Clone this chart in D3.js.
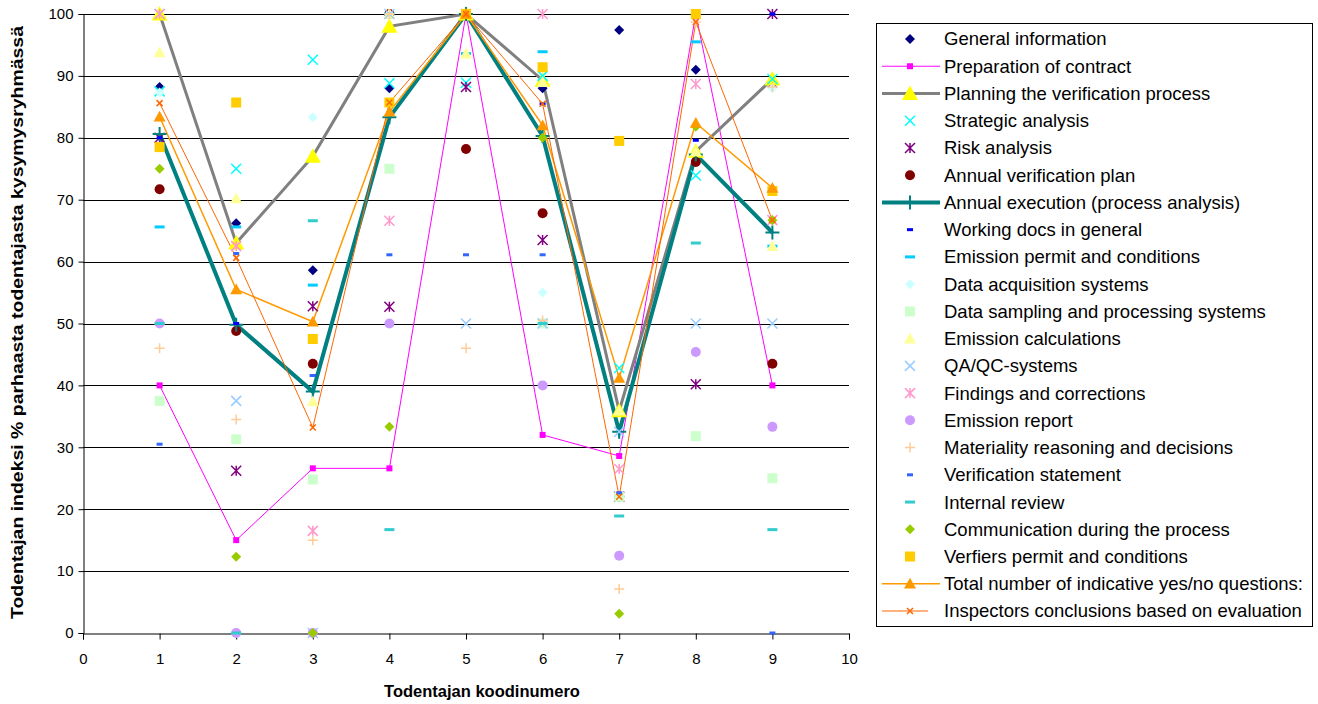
<!DOCTYPE html>
<html>
<head>
<meta charset="utf-8">
<script src="https://cdn.jsdelivr.net/npm/d3@7"></script>
<style>
  body { margin: 0; background: #fff; }
  svg { font-family: "Liberation Sans", Arial, sans-serif; }
</style>
</head>
<body>
<div id="chart"></div>
<script>
// koodinumerot 1..9
const codes = [1, 2, 3, 4, 5, 6, 7, 8, 9];
const xTicks = [0, 1, 2, 3, 4, 5, 6, 7, 8, 9, 10];
const yTicks = [0, 10, 20, 30, 40, 50, 60, 70, 80, 90, 100];

const generalInfo = [88.2, 66.2, 58.6, 88, 100, 88, 97.4, 91, 88.2];
const prepContract = [40, 15, 26.6, 26.6, 100, 32, 28.6, 100, 40];
const planning = [100, 63, 77, 98, 100, 89.3, 35.9, 77.8, 89.5];
const strategic = [87.5, 75, 92.6, 88.8, 88.9, 90, 42.8, 73.9, 89.5];
const risk = [80, 26.2, 52.8, 52.7, 88.2, 63.5, 22, 40.2, 100];
const annualPlan = [71.7, 48.8, 43.5, 100, 78.2, 67.8, 22, 76.1, 43.5];
const annualExec = [80.6, 49.8, 39, 83.3, 100, 80.3, 32.5, 77.3, 64.7];
const workingDocs = [80, 50, 41.6, 100, 100, 85.5, 22.6, 79.6, 100];
const emissionPermit = [65.6, 65.6, 56.2, 100, 93.6, 93.9, 22, 95.5, 62.5];
const dataAcq = [87.3, 0, 83.3, 100, 100, 55, 22, 100, 88];
const dataSampling = [37.5, 31.3, 24.8, 75, 100, 50, 22, 31.8, 25];
const emissionCalc = [93.8, 70.2, 37.4, 100, 93.6, 89, 35.9, 77.8, 62.5];
const qaqc = [100, 37.5, 0, 100, 50, 50, 32.5, 50, 50];
const findings = [100, 62.5, 16.5, 66.6, 100, 100, 26.5, 88.7, 66.7];
const emissionReport = [50, 0, 0, 50, 100, 40, 12.5, 45.4, 33.3];
const materiality = [46, 34.5, 15, 100, 46, 50.5, 7.1, 98.7, 88.2];
const verificationStatement = [30.5, 61.3, 41.6, 61.1, 61.1, 61.1, 22.6, 100, 0];
const internalReview = [50, 0, 66.6, 16.7, 100, 50, 18.9, 63, 16.7];
const communication = [75, 12.3, 0, 33.3, 100, 80, 3.1, 81.8, 66.7];
const verifiersPermit = [78.5, 85.7, 47.5, 85.7, 100, 91.4, 79.5, 100, 71.4];
const totalQuestions = [83.4, 55.5, 50.3, 84.2, 100, 82, 41.2, 82.4, 71.9];
const inspectors = [85.6, 60.6, 33.2, 85.7, 100, 85.5, 22, 98.7, 66.7];

const series = [
  { name: "General information", values: generalInfo, marker: "diamond", color: "#000080", size: 5 },
  { name: "Preparation of contract", values: prepContract, marker: "square", color: "#FF00FF", size: 3, line: "#FF00FF", lw: 1 },
  { name: "Planning the verification process", values: planning, marker: "triangle", color: "#FFFF00", size: 8, line: "#808080", lw: 3 },
  { name: "Strategic analysis", values: strategic, marker: "x", color: "#00FFFF", size: 5 },
  { name: "Risk analysis", values: risk, marker: "asterisk", color: "#800080", size: 5 },
  { name: "Annual verification plan", values: annualPlan, marker: "circle", color: "#800000", size: 5 },
  { name: "Annual execution (process analysis)", values: annualExec, marker: "plus", color: "#008080", size: 7, line: "#008080", lw: 4 },
  { name: "Working docs in general", values: workingDocs, marker: "dash", color: "#0000FF", size: 3 },
  { name: "Emission permit and conditions", values: emissionPermit, marker: "dash", color: "#00CCFF", size: 5 },
  { name: "Data acquisition systems", values: dataAcq, marker: "diamond", color: "#CCFFFF", size: 5 },
  { name: "Data sampling and processing systems", values: dataSampling, marker: "square", color: "#CCFFCC", size: 5 },
  { name: "Emission calculations", values: emissionCalc, marker: "triangle", color: "#FFFF99", size: 6 },
  { name: "QA/QC-systems", values: qaqc, marker: "x", color: "#99CCFF", size: 5 },
  { name: "Findings and corrections", values: findings, marker: "asterisk", color: "#FF99CC", size: 5 },
  { name: "Emission report", values: emissionReport, marker: "circle", color: "#CC99FF", size: 5 },
  { name: "Materiality reasoning and decisions", values: materiality, marker: "plus", color: "#FFCC99", size: 5 },
  { name: "Verification statement", values: verificationStatement, marker: "dash", color: "#3366FF", size: 3 },
  { name: "Internal review", values: internalReview, marker: "dash", color: "#33CCCC", size: 5 },
  { name: "Communication during the process", values: communication, marker: "diamond", color: "#99CC00", size: 5 },
  { name: "Verfiers permit and conditions", values: verifiersPermit, marker: "square", color: "#FFCC00", size: 5 },
  { name: "Total number of indicative yes/no questions:", values: totalQuestions, marker: "triangle", color: "#FF9900", size: 6, line: "#FF9900", lw: 1.5 },
  { name: "Inspectors conclusions based on evaluation", values: inspectors, marker: "x", color: "#FF6600", size: 3, line: "#FF6600", lw: 1, legendLine: [882, 928] }
];

const width = 1318;
const height = 704;
const plot = { left: 83, right: 849, top: 14, bottom: 633 };

const x = d3.scaleLinear().domain([0, 10]).range([plot.left, plot.right]);
const y = d3.scaleLinear().domain([0, 100]).range([plot.bottom, plot.top]);

const svg = d3.select("#chart").append("svg")
  .attr("width", width)
  .attr("height", height);

// gridlines
svg.append("g")
  .selectAll("line")
  .data(yTicks.filter((d) => d > 0))
  .enter()
  .append("line")
  .attr("x1", plot.left)
  .attr("x2", plot.right)
  .attr("y1", (d) => Math.round(y(d)) + 0.5)
  .attr("y2", (d) => Math.round(y(d)) + 0.5)
  .style("stroke", "#000")
  .style("stroke-width", 1);

// akselit
const yAxis = svg.append("g")
  .attr("transform", `translate(${plot.left + 0.5},0)`)
  .call(d3.axisLeft(y).tickValues(yTicks).tickSize(5).tickPadding(5));
const xAxis = svg.append("g")
  .attr("transform", `translate(0,${plot.bottom + 0.5})`)
  .call(d3.axisBottom(x).tickValues(xTicks).tickSize(6).tickPadding(14));

[yAxis, xAxis].forEach((g) => {
  g.select(".domain").style("stroke", "#000");
  g.selectAll(".tick line").style("stroke", "#000");
  g.selectAll("text")
    .style("font-family", "'Liberation Sans', Arial, sans-serif")
    .style("font-size", "15px")
    .style("fill", "#000");
});

// akselien otsikot
svg.append("text")
  .attr("transform", `translate(23,${(plot.top + plot.bottom) / 2 - 1}) rotate(-90)`)
  .attr("text-anchor", "middle")
  .attr("textLength", 593)
  .attr("lengthAdjust", "spacingAndGlyphs")
  .style("font-size", "17px")
  .style("font-weight", "bold")
  .text("Todentajan indeksi % parhaasta todentajasta kysymysryhmässä");

svg.append("text")
  .attr("x", 482)
  .attr("y", 697)
  .attr("text-anchor", "middle")
  .style("font-size", "16.5px")
  .style("font-weight", "bold")
  .text("Todentajan koodinumero");

// markkerin piirto
function drawMarker(g, s, cx, cy) {
  const r = s.size;
  const c = s.color;
  if (s.marker === "diamond") {
    g.append("path")
      .attr("d", `M${cx},${cy - r}L${cx + r},${cy}L${cx},${cy + r}L${cx - r},${cy}Z`)
      .style("fill", c);
  } else if (s.marker === "square") {
    g.append("rect")
      .attr("x", cx - r).attr("y", cy - r)
      .attr("width", 2 * r).attr("height", 2 * r)
      .style("fill", c);
  } else if (s.marker === "triangle") {
    g.append("path")
      .attr("d", `M${cx},${cy - r}L${cx + r},${cy + r * 0.8}L${cx - r},${cy + r * 0.8}Z`)
      .style("fill", c);
  } else if (s.marker === "circle") {
    g.append("circle").attr("cx", cx).attr("cy", cy).attr("r", r).style("fill", c);
  } else if (s.marker === "dash") {
    g.append("rect")
      .attr("x", cx - r).attr("y", cy - 1.5)
      .attr("width", 2 * r).attr("height", 3)
      .style("fill", c);
  } else {
    const p = d3.path();
    if (s.marker === "x" || s.marker === "asterisk") {
      p.moveTo(cx - r, cy - r); p.lineTo(cx + r, cy + r);
      p.moveTo(cx + r, cy - r); p.lineTo(cx - r, cy + r);
    }
    if (s.marker === "asterisk" || s.marker === "plus") {
      p.moveTo(cx, cy - r); p.lineTo(cx, cy + r);
    }
    if (s.marker === "plus") {
      p.moveTo(cx - r, cy); p.lineTo(cx + r, cy);
    }
    g.append("path")
      .attr("d", p.toString())
      .style("fill", "none")
      .style("stroke", c)
      .style("stroke-width", s.marker === "plus" && s.size > 6 ? 2 : 1.5);
  }
}

// viivat
const line = d3.line()
  .x((d, i) => x(codes[i]))
  .y((d) => y(d));

series.filter((s) => s.line).forEach((s) => {
  svg.append("path")
    .datum(s.values)
    .attr("d", line)
    .style("fill", "none")
    .style("stroke", s.line)
    .style("stroke-width", s.lw)
    .style("stroke-linejoin", "miter");
});

// pisteet
const markers = svg.append("g");
series.forEach((s) => {
  s.values.forEach((v, i) => {
    drawMarker(markers, s, x(codes[i]), y(v));
  });
});

// selite
const legend = { x: 876, y: 23, w: 436, h: 603, first: 39, step: (611 - 39) / 21 };
svg.append("rect")
  .attr("x", legend.x + 0.5)
  .attr("y", legend.y + 0.5)
  .attr("width", legend.w)
  .attr("height", legend.h)
  .style("fill", "#fff")
  .style("stroke", "#000");

series.forEach((s, i) => {
  const ly = legend.first + i * legend.step;
  const g = svg.append("g");
  if (s.line) {
    const ll = s.legendLine || [882, 940];
    g.append("line")
      .attr("x1", ll[0]).attr("x2", ll[1])
      .attr("y1", ly).attr("y2", ly)
      .style("stroke", s.line)
      .style("stroke-width", s.lw);
  }
  drawMarker(g, s, 910, ly);
  g.append("text")
    .attr("x", 944)
    .attr("y", ly)
    .attr("dy", "0.35em")
    .style("font-size", "18.5px")
    .text(s.name);
});
</script>
</body>
</html>
